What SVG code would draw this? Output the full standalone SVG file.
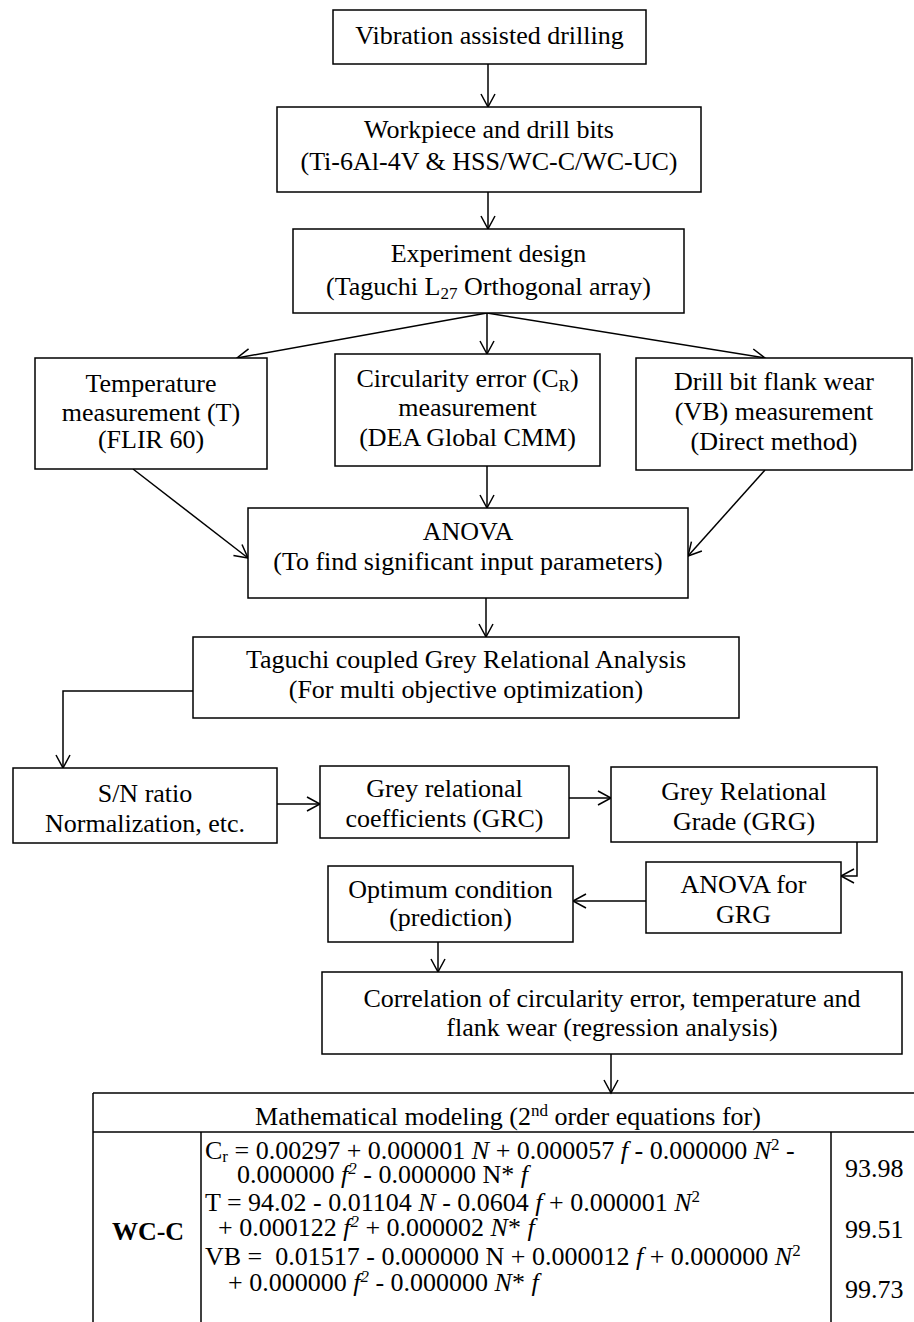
<svg xmlns="http://www.w3.org/2000/svg" width="914" height="1322" viewBox="0 0 914 1322">
<defs>
<style>
.b{fill:#fff;stroke:#000;stroke-width:1.5}
.t{font-family:"Liberation Serif","Times New Roman",serif;font-size:26px;fill:#000;text-anchor:middle}
.e{font-family:"Liberation Serif","Times New Roman",serif;font-size:26px;fill:#000;white-space:pre}
.c{fill:none;stroke:#000;stroke-width:1.5}
.l{stroke:#000;stroke-width:1.5}
.i{font-style:italic}
</style>
<marker id="ah" markerWidth="16" markerHeight="16" refX="14" refY="8" orient="auto" markerUnits="userSpaceOnUse" viewBox="0 0 16 16">
<path d="M1,1 L14,8 L1,15" fill="none" stroke="#000" stroke-width="1.5"/>
</marker>
</defs>
<rect width="914" height="1322" fill="#fff"/>

<g id="connectors">
<path class="c" d="M488,64 L488,107" marker-end="url(#ah)"/>
<path class="c" d="M488,192 L488,229" marker-end="url(#ah)"/>
<path class="c" d="M487,313 L237,358" marker-end="url(#ah)"/>
<path class="c" d="M487,313 L487,354" marker-end="url(#ah)"/>
<path class="c" d="M487,313 L765,358" marker-end="url(#ah)"/>
<path class="c" d="M133,469 L248,558" marker-end="url(#ah)"/>
<path class="c" d="M487,466 L487,508" marker-end="url(#ah)"/>
<path class="c" d="M765,470 L688,556" marker-end="url(#ah)"/>
<path class="c" d="M486,598 L486,637" marker-end="url(#ah)"/>
<path class="c" d="M193,691 L63,691 L63,768" marker-end="url(#ah)"/>
<path class="c" d="M277,804 L320,804" marker-end="url(#ah)"/>
<path class="c" d="M569,798 L611,798" marker-end="url(#ah)"/>
<path class="c" d="M857,842 L857,876 L841,876" marker-end="url(#ah)"/>
<path class="c" d="M646,901 L573,901" marker-end="url(#ah)"/>
<path class="c" d="M438,942 L438,972" marker-end="url(#ah)"/>
<path class="c" d="M611,1054 L611,1093" marker-end="url(#ah)"/>
</g>

<g id="n-vad">
<rect class="b" x="333" y="10" width="313" height="54"/>
<text class="t" x="489.5" y="44">Vibration assisted drilling</text>
</g>

<g id="n-workpiece">
<rect class="b" x="277" y="107" width="424" height="85"/>
<text class="t" x="489" y="138">Workpiece and drill bits</text>
<text class="t" x="489" y="170">(Ti-6Al-4V &amp; HSS/WC-C/WC-UC)</text>
</g>

<g id="n-experiment">
<rect class="b" x="293" y="229" width="391" height="84"/>
<text class="t" x="488.5" y="262">Experiment design</text>
<text class="t" x="488.5" y="295">(Taguchi L<tspan font-size="17" baseline-shift="-4">27</tspan> Orthogonal array)</text>
</g>

<g id="n-temperature">
<rect class="b" x="35" y="358" width="232" height="111"/>
<text class="t" x="151" y="392">Temperature</text>
<text class="t" x="151" y="421">measurement (T)</text>
<text class="t" x="151" y="448">(FLIR 60)</text>
</g>

<g id="n-circularity">
<rect class="b" x="335" y="354" width="265" height="112"/>
<text class="t" x="467.5" y="387">Circularity error (C<tspan font-size="17" baseline-shift="-4">R</tspan>)</text>
<text class="t" x="467.5" y="416">measurement</text>
<text class="t" x="467.5" y="446">(DEA Global CMM)</text>
</g>

<g id="n-flank">
<rect class="b" x="636" y="358" width="276" height="112"/>
<text class="t" x="774" y="390">Drill bit flank wear</text>
<text class="t" x="774" y="420">(VB) measurement</text>
<text class="t" x="774" y="450">(Direct method)</text>
</g>

<g id="n-anova">
<rect class="b" x="248" y="508" width="440" height="90"/>
<text class="t" x="468" y="540">ANOVA</text>
<text class="t" x="468" y="570">(To find significant input parameters)</text>
</g>

<g id="n-gra">
<rect class="b" x="193" y="637" width="546" height="81"/>
<text class="t" x="466" y="668">Taguchi coupled Grey Relational Analysis</text>
<text class="t" x="466" y="698">(For multi objective optimization)</text>
</g>

<g id="n-sn">
<rect class="b" x="13" y="768" width="264" height="75"/>
<text class="t" x="145" y="802">S/N ratio</text>
<text class="t" x="145" y="832">Normalization, etc.</text>
</g>

<g id="n-grc">
<rect class="b" x="320" y="766" width="249" height="72"/>
<text class="t" x="444.5" y="797">Grey relational</text>
<text class="t" x="444.5" y="827">coefficients (GRC)</text>
</g>

<g id="n-grg">
<rect class="b" x="611" y="767" width="266" height="75"/>
<text class="t" x="744" y="800">Grey Relational</text>
<text class="t" x="744" y="830">Grade (GRG)</text>
</g>

<g id="n-anova-grg">
<rect class="b" x="646" y="862" width="195" height="71"/>
<text class="t" x="743.5" y="893">ANOVA for</text>
<text class="t" x="743.5" y="923">GRG</text>
</g>

<g id="n-optimum">
<rect class="b" x="328" y="866" width="245" height="76"/>
<text class="t" x="450.5" y="898">Optimum condition</text>
<text class="t" x="450.5" y="926">(prediction)</text>
</g>

<g id="n-correlation">
<rect class="b" x="322" y="972" width="580" height="82"/>
<text class="t" x="612" y="1007">Correlation of circularity error, temperature and</text>
<text class="t" x="612" y="1036">flank wear (regression analysis)</text>
</g>

<g id="n-table">
<line class="l" x1="93" y1="1093" x2="914" y2="1093"/>
<line class="l" x1="93" y1="1132" x2="914" y2="1132"/>
<line class="l" x1="93" y1="1093" x2="93" y2="1322"/>
<line class="l" x1="201" y1="1132" x2="201" y2="1322"/>
<line class="l" x1="831" y1="1132" x2="831" y2="1322"/>
<text class="t" x="508" y="1125">Mathematical modeling (2<tspan font-size="17" baseline-shift="9">nd</tspan> order equations for)</text>
<text class="t" x="148" y="1240" font-weight="bold">WC-C</text>
<text class="e" x="205" y="1159">C<tspan font-size="17" baseline-shift="-3">r</tspan> = 0.00297 + 0.000001 <tspan class="i">N</tspan> + 0.000057 <tspan class="i">f</tspan> - 0.000000 <tspan class="i">N</tspan><tspan font-size="17" baseline-shift="9">2</tspan> -</text>
<text class="e" x="237" y="1183">0.000000 <tspan class="i">f</tspan><tspan class="i" font-size="17" baseline-shift="9">2</tspan> - 0.000000 N* <tspan class="i">f</tspan></text>
<text class="e" x="205" y="1211">T = 94.02 - 0.01104 <tspan class="i">N</tspan> - 0.0604 <tspan class="i">f</tspan> + 0.000001 <tspan class="i">N</tspan><tspan font-size="17" baseline-shift="9">2</tspan></text>
<text class="e" x="218" y="1236">+ 0.000122 <tspan class="i">f</tspan><tspan class="i" font-size="17" baseline-shift="9">2</tspan> + 0.000002 <tspan class="i">N</tspan>* <tspan class="i">f</tspan></text>
<text class="e" x="205" y="1265">VB =  0.01517 - 0.000000 N + 0.000012 <tspan class="i">f</tspan> + 0.000000 <tspan class="i">N</tspan><tspan font-size="17" baseline-shift="9">2</tspan></text>
<text class="e" x="228" y="1291">+ 0.000000 <tspan class="i">f</tspan><tspan class="i" font-size="17" baseline-shift="9">2</tspan> - 0.000000 <tspan class="i">N</tspan>* <tspan class="i">f</tspan></text>
<text class="e" x="845" y="1177">93.98</text>
<text class="e" x="845" y="1238">99.51</text>
<text class="e" x="845" y="1298">99.73</text>
</g>
</svg>
